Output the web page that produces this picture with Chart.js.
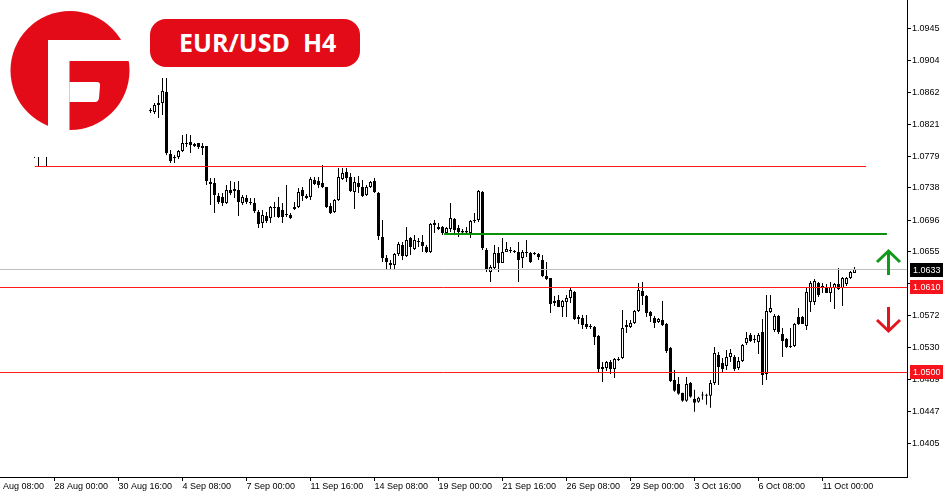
<!DOCTYPE html>
<html><head><meta charset="utf-8">
<script src="https://cdn.jsdelivr.net/npm/chart.js@4.4.1/dist/chart.umd.min.js"></script>
<style>
html,body{margin:0;padding:0;background:#fff;overflow:hidden;width:950px;height:500px;position:relative;}
#wrap{position:absolute;left:-20px;top:0;width:970px;height:500px;}
#logo{position:absolute;left:0;top:0;width:149px;height:157px;background:#fff;}
#badge{position:absolute;left:150px;top:19px;width:210px;height:48px;border-radius:16px;background:#e30b17;color:#fff;
 font-family:'Open Sans',sans-serif;font-weight:700;font-size:25px;line-height:46px;white-space:pre;padding-left:29px;box-sizing:border-box;}
</style></head><body>
<div id="wrap"><canvas id="c"></canvas></div>
<div id="logo"><svg width="149" height="157" viewBox="0 0 149 157">
<circle cx="70" cy="70.5" r="59.5" fill="#e30b17"/>
<rect x="48" y="40" width="21.5" height="100" fill="#fff"/>
<rect x="48" y="40" width="95" height="21" fill="#fff"/>
<path d="M69.5 82 H97 Q100.5 82 100 86 L99 98 Q98.5 102 95 102 H69.5 Z" fill="#fff"/>
</svg></div>
<div id="badge">EUR/USD  H4</div>
<script>
// ---- data (H4 bars; bar index 0 = 23 Aug 08:00) ----
const firstBar = 11;
const opens = [1.07873,1.07873,1.07899,1.07873,
null,null,null,null,null,null,null,null,null,null,null,null,null,null,null,null,null,null,null,null,null,null,null,null,null,
1.08393,1.08367,1.08458,1.08484,1.08627,1.07821,1.07782,1.07782,1.07860,1.07951,
1.07977,1.07925,1.07964,1.07925,1.07925,1.07457,1.07444,1.07275,1.07262,1.07184,
1.07353,1.07366,1.07353,1.07184,1.07249,1.07197,1.07184,1.07067,1.06924,1.07015,
1.06989,1.07119,1.07132,1.07093,1.07041,1.07028,1.07106,1.07132,1.07353,1.07275,
1.07262,1.07483,1.07470,1.07444,1.07392,1.07145,1.07067,1.07223,1.07496,1.07587,
1.07522,1.07327,1.07444,1.07392,1.07288,1.07392,1.07470,1.07314,1.06742,1.06469,
1.06378,1.06378,1.06521,1.06638,1.06495,1.06729,1.06586,1.06690,1.06677,1.06612,
1.06547,1.06924,1.06846,1.06872,1.06794,1.06846,1.06976,1.06859,1.06820,1.06820,
1.06794,1.06963,1.06963,1.07327,1.06573,1.06287,1.06339,1.06534,1.06404,1.06547,
1.06573,1.06560,1.06547,1.06469,1.06547,1.06534,1.06521,1.06521,1.06443,1.06235,
1.06209,1.05884,1.05923,1.05832,1.05897,1.05949,1.06027,1.05702,1.05689,1.05611,
1.05585,1.05572,1.05455,1.05052,1.05039,1.05117,1.05026,1.05156,1.05169,1.05598,
1.05572,1.05624,1.05780,1.06040,1.05975,1.05767,1.05689,1.05637,1.05663,1.05611,
1.05299,1.04883,1.04831,1.04714,1.04610,1.04844,1.04636,1.04597,1.04688,1.04688,
1.04675,1.04844,1.05208,1.05104,1.05065,1.05182,1.05182,1.05039,1.05130,1.05364,
1.05468,1.05403,1.05377,1.05507,1.04961,1.05767,1.05533,1.05715,1.05481,1.05416,
1.05312,1.05325,1.05702,1.05702,1.05585,1.05897,1.05897,1.06144,1.06079,1.06092,
1.06014,1.06079,1.06131,1.06079,1.06131,1.06209,1.06274];
const highs = [1.08003,1.08003,1.08029,1.07977,
null,null,null,null,null,null,null,null,null,null,null,null,null,null,null,null,null,null,null,null,null,null,null,null,null,
1.08419,1.08484,1.08588,1.08809,1.08809,1.07873,1.07808,1.07873,1.08068,1.08081,
1.08068,1.07964,1.07964,1.07964,1.07925,1.07509,1.07509,1.07314,1.07314,1.07418,
1.07470,1.07457,1.07470,1.07288,1.07288,1.07249,1.07249,1.07093,1.07093,1.07067,
1.07145,1.07197,1.07262,1.07184,1.07418,1.07054,1.07197,1.07379,1.07392,1.07301,
1.07522,1.07522,1.07522,1.07678,1.07392,1.07184,1.07236,1.07639,1.07639,1.07639,
1.07574,1.07522,1.07535,1.07483,1.07418,1.07470,1.07509,1.07327,1.06963,1.06508,
1.06443,1.06534,1.06677,1.06677,1.06872,1.06742,1.06768,1.06729,1.06768,1.06638,
1.06924,1.06963,1.06924,1.06885,1.06872,1.07184,1.06989,1.06898,1.06846,1.06872,
1.06963,1.07054,1.07353,1.07340,1.06599,1.06378,1.06638,1.06612,1.06729,1.06677,
1.06612,1.06573,1.06677,1.06573,1.06703,1.06547,1.06547,1.06534,1.06508,1.06417,
1.06209,1.05975,1.05988,1.05923,1.05988,1.06092,1.06040,1.05728,1.05728,1.05728,
1.05611,1.05585,1.05468,1.05117,1.05130,1.05143,1.05169,1.05182,1.05793,1.05663,
1.05663,1.05793,1.06144,1.06157,1.05988,1.05780,1.05715,1.05689,1.05910,1.05624,
1.05312,1.05013,1.04922,1.04714,1.04922,1.04857,1.04753,1.04662,1.04727,1.04701,
1.04883,1.05312,1.05247,1.05169,1.05273,1.05286,1.05208,1.05182,1.05351,1.05507,
1.05494,1.05468,1.05494,1.05676,1.05988,1.05988,1.05741,1.05728,1.05559,1.05429,
1.05559,1.05624,1.05819,1.05715,1.06092,1.06170,1.06196,1.06157,1.06144,1.06131,
1.06157,1.06144,1.06339,1.06222,1.06222,1.06300,1.06352];
const lows = [1.07769,1.07652,1.07808,1.07652,
null,null,null,null,null,null,null,null,null,null,null,null,null,null,null,null,null,null,null,null,null,null,null,null,null,
1.08354,1.08341,1.08289,1.08328,1.07808,1.07704,1.07704,1.07756,1.07847,1.07912,
1.07834,1.07912,1.07886,1.07808,1.07418,1.07158,1.07054,1.07171,1.07145,1.07171,
1.07288,1.07249,1.07015,1.07158,1.07171,1.07158,1.07054,1.06859,1.06859,1.06924,
1.06924,1.07002,1.06989,1.06924,1.07002,1.06976,1.07093,1.07119,1.07210,1.07236,
1.07223,1.07418,1.07379,1.07379,1.07119,1.07041,1.07054,1.07210,1.07483,1.07457,
1.07327,1.07106,1.07314,1.07262,1.07275,1.07379,1.07314,1.06703,1.06417,1.06313,
1.06313,1.06326,1.06495,1.06443,1.06482,1.06508,1.06573,1.06612,1.06547,1.06534,
1.06534,1.06794,1.06833,1.06768,1.06768,1.06807,1.06794,1.06742,1.06794,1.06794,
1.06729,1.06924,1.06937,1.06573,1.06287,1.06157,1.06313,1.06287,1.06404,1.06547,
1.06534,1.06534,1.06157,1.06339,1.06482,1.06404,1.06508,1.06443,1.06222,1.06183,
1.05754,1.05845,1.05832,1.05702,1.05702,1.05884,1.05663,1.05611,1.05546,1.05546,
1.05546,1.05338,1.04987,1.04857,1.05000,1.04961,1.04909,1.05130,1.05156,1.05494,
1.05559,1.05611,1.05767,1.05858,1.05702,1.05637,1.05559,1.05624,1.05585,1.05234,
1.04857,1.04727,1.04688,1.04597,1.04597,1.04649,1.04467,1.04584,1.04623,1.04558,
1.04519,1.04818,1.04818,1.04974,1.05013,1.05117,1.05000,1.05013,1.05117,1.05338,
1.05377,1.05364,1.05221,1.04818,1.04883,1.05754,1.05507,1.05481,1.05182,1.05299,
1.05299,1.05312,1.05598,1.05611,1.05533,1.05767,1.05858,1.05962,1.06014,1.06014,
1.05897,1.05806,1.06053,1.05845,1.06105,1.06196,1.06274];
const closes = [1.07899,1.07847,1.07938,1.07847,
null,null,null,null,null,null,null,null,null,null,null,null,null,null,null,null,null,null,null,null,null,null,null,null,null,
1.08380,1.08458,1.08484,1.08640,1.07834,1.07730,1.07769,1.07860,1.07964,1.07964,
1.07938,1.07951,1.07912,1.07899,1.07470,1.07431,1.07288,1.07197,1.07184,1.07353,
1.07314,1.07340,1.07197,1.07262,1.07197,1.07184,1.07080,1.06911,1.07028,1.06950,
1.07132,1.07132,1.07002,1.07002,1.07028,1.06989,1.07132,1.07327,1.07275,1.07249,
1.07496,1.07431,1.07418,1.07392,1.07132,1.07054,1.07223,1.07522,1.07574,1.07509,
1.07340,1.07457,1.07392,1.07275,1.07392,1.07457,1.07327,1.06755,1.06469,1.06417,
1.06404,1.06521,1.06651,1.06495,1.06703,1.06612,1.06703,1.06677,1.06625,1.06547,
1.06911,1.06898,1.06872,1.06794,1.06859,1.06989,1.06833,1.06807,1.06800,1.06800,
1.06950,1.06950,1.07340,1.06599,1.06313,1.06352,1.06534,1.06404,1.06547,1.06586,
1.06560,1.06547,1.06443,1.06547,1.06534,1.06417,1.06534,1.06482,1.06235,1.06196,
1.05871,1.05910,1.05832,1.05910,1.05949,1.06053,1.05676,1.05676,1.05598,1.05572,
1.05572,1.05442,1.05026,1.05026,1.05117,1.05026,1.05156,1.05143,1.05559,1.05572,
1.05624,1.05780,1.06053,1.05975,1.05754,1.05715,1.05624,1.05676,1.05598,1.05260,
1.04870,1.04740,1.04701,1.04610,1.04831,1.04662,1.04584,1.04649,1.04680,1.04675,
1.04844,1.05234,1.05052,1.05026,1.05182,1.05234,1.05026,1.05130,1.05338,1.05429,
1.05390,1.05416,1.05468,1.04948,1.05780,1.05819,1.05715,1.05507,1.05390,1.05312,
1.05325,1.05611,1.05611,1.05611,1.06027,1.06144,1.06170,1.05988,1.06105,1.06014,
1.06092,1.06131,1.06066,1.06209,1.06209,1.06287,1.06326];

// axis ticks
const xTickIdx = [0,16,32,48,64,80,96,112,128,144,160,176,192,208];
const xTickText = ['23 Aug 08:00','28 Aug 00:00','30 Aug 16:00','4 Sep 08:00','7 Sep 00:00','11 Sep 16:00','14 Sep 08:00',
  '19 Sep 00:00','21 Sep 16:00','26 Sep 08:00','29 Sep 00:00','3 Oct 16:00','6 Oct 08:00','11 Oct 00:00'];
const yTickVals = [1.0405,1.0447,1.0489,1.0530,1.0572,1.0613,1.0655,1.0696,1.0738,1.0779,1.0821,1.0862,1.0904,1.0945];

// horizontal levels (price, from bar, to bar; null = full width)
const levelValues = [1.07652, 1.06785, 1.06318, 1.0609, 1.0498];
const levelFrom = [11.1, 113.4, null, null, null];
const levelTo = [218.9, 224.1, null, null, null];
// price tags on the axis
const tagValues = [1.06318, 1.0609, 1.0498];
const tagTexts = ['1.0633', '1.0610', '1.0500'];

// ---- styles ----
const levelStyle = [{c:'#ff1a1a',w:1},{c:'#0a900a',w:2},{c:'#c0c0c0',w:1},{c:'#ff1a1a',w:1},{c:'#ff1a1a',w:1}];
const tagColors = ['#000000', '#f5141c', '#f5141c'];
const FONT = "'Liberation Sans', Arial, sans-serif";

const bodies = [], wicks = [], fills = [];
for (let k = 0; k < opens.length; k++) {
  if (opens[k] === null) continue;
  const idx = firstBar + k;
  bodies.push({x: idx, y: [opens[k], closes[k]]});
  wicks.push({x: idx, y: [lows[k], highs[k]]});
  fills.push(closes[k] > opens[k] ? '#ffffff' : '#000000');
}

const overlay = {
  id: 'overlay',
  afterDatasetsDraw(chart) {
    const {ctx, chartArea: ca, scales: {x, y}} = chart;
    ctx.save();
    levelValues.forEach((v, k) => {
      const st = levelStyle[k];
      const x0 = levelFrom[k] == null ? ca.left : x.getPixelForValue(levelFrom[k]);
      const x1 = levelTo[k] == null ? ca.right : x.getPixelForValue(levelTo[k]);
      const p = y.getPixelForValue(v);
      const yy = Math.round(p - st.w / 2) + st.w / 2;
      ctx.strokeStyle = st.c; ctx.lineWidth = st.w;
      ctx.beginPath(); ctx.moveTo(x0, yy); ctx.lineTo(x1, yy); ctx.stroke();
    });
    ctx.restore();
  },
  afterDraw(chart) {
    const {ctx, scales: {y}} = chart;
    const ax = y.left;
    ctx.save();
    tagValues.forEach((v, k) => {
      const p = Math.round(y.getPixelForValue(v));
      ctx.fillStyle = tagColors[k];
      ctx.fillRect(ax + 3, p - 7, 33, 14);
      ctx.fillStyle = '#ffffff';
      ctx.font = '9px ' + FONT;
      ctx.textBaseline = 'middle';
      ctx.textAlign = 'left';
      ctx.fillText(tagTexts[k], ax + 6, p + 0.5);
    });
    // arrows
    ctx.lineWidth = 3; ctx.lineCap = 'butt'; ctx.lineJoin = 'miter';
    ctx.strokeStyle = '#12981a';
    ctx.beginPath(); ctx.moveTo(908.5, 252); ctx.lineTo(908.5, 275); ctx.stroke();
    ctx.beginPath(); ctx.moveTo(897, 262); ctx.lineTo(908.5, 251); ctx.lineTo(920, 262); ctx.stroke();
    ctx.strokeStyle = '#e4141e';
    ctx.beginPath(); ctx.moveTo(908.5, 307); ctx.lineTo(908.5, 330); ctx.stroke();
    ctx.beginPath(); ctx.moveTo(897, 320); ctx.lineTo(908.5, 331); ctx.lineTo(920, 320); ctx.stroke();
    ctx.restore();
  }
};

new Chart(document.getElementById('c'), {
  type: 'bar',
  data: {
    datasets: [
      {data: bodies, backgroundColor: fills, borderColor: '#000000', borderWidth: 1, borderSkipped: false,
       grouped: false, barPercentage: 1, categoryPercentage: 1, maxBarThickness: 3, inflateAmount: 0, minBarLength: 1},
      {data: wicks, backgroundColor: '#000000', borderWidth: 0, borderSkipped: false,
       grouped: false, barPercentage: 1, categoryPercentage: 1, maxBarThickness: 1, inflateAmount: 0}
    ]
  },
  options: {
    animation: false, responsive: true, maintainAspectRatio: false, events: [],
    layout: {padding: 0},
    plugins: {legend: {display: false}, tooltip: {enabled: false}},
    scales: {
      x: {
        type: 'linear', min: -2.625, max: 229.125, offset: false, position: 'bottom',
        grid: {display: true, offset: false, drawOnChartArea: false, drawTicks: true, tickLength: 4, color: '#000000'},
        border: {display: true, color: '#000000', width: 1},
        afterBuildTicks: s => { s.ticks = xTickIdx.map(v => ({value: v})); },
        afterFit: s => { s.height = 23; s.paddingLeft = 0; s.paddingRight = 0; },
        ticks: {autoSkip: false, maxRotation: 0, minRotation: 0, align: 'start', padding: 0, color: '#000000',
          font: {family: FONT, size: 9}, callback: (v, i) => xTickText[i]}
      },
      y: {
        type: 'linear', position: 'right', min: 1.03620, max: 1.09823, beginAtZero: false,
        grid: {display: true, drawOnChartArea: false, drawTicks: true, tickLength: 4, color: '#000000'},
        border: {display: true, color: '#000000', width: 1},
        afterBuildTicks: s => { s.ticks = yTickVals.map(v => ({value: v})); },
        afterFit: s => { s.width = 43; s.paddingTop = 0; s.paddingBottom = 0; },
        ticks: {padding: 1, color: '#000000', font: {family: FONT, size: 9}, callback: v => Number(v).toFixed(4)}
      }
    }
  },
  plugins: [overlay]
});
</script>
</body></html>
